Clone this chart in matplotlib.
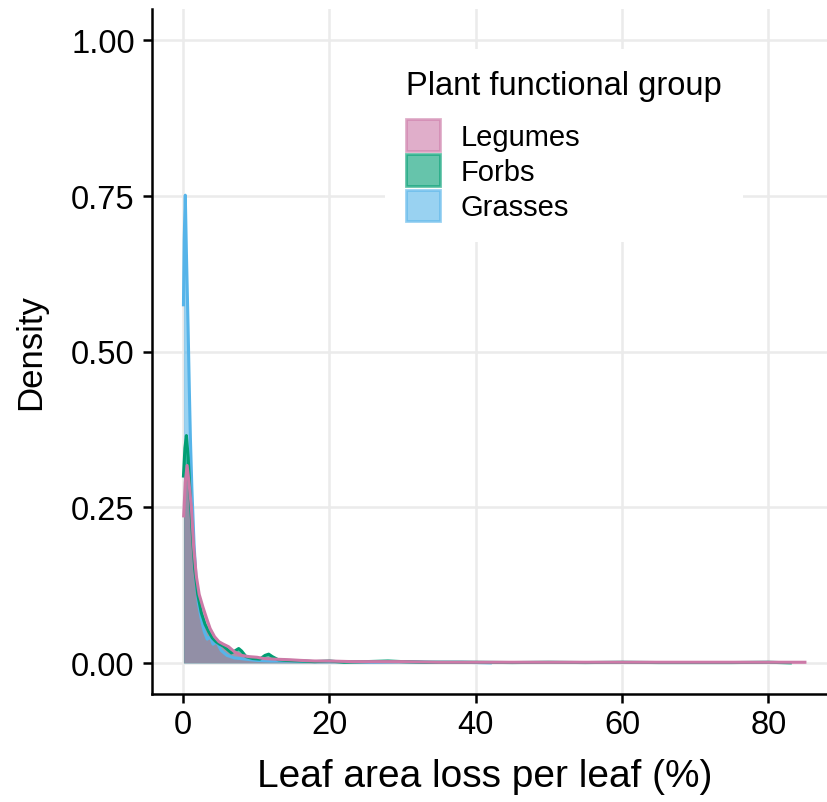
import matplotlib
matplotlib.use("Agg")
import matplotlib.pyplot as plt
from matplotlib.patches import Patch

plt.rcParams['font.family'] = ['Liberation Sans', 'DejaVu Sans']

# Kernel density curves of leaf area loss per leaf (%), by plant functional group
groups = ["Legumes", "Forbs", "Grasses"]
colors = {"Legumes": "#CC79A7", "Forbs": "#009E73", "Grasses": "#56B4E9"}

grasses_x = [0.05, 0.15, 0.3, 0.45, 0.68, 0.85, 1.0, 1.2, 1.5, 1.8, 2.1, 2.5, 2.9, 3.3,
             3.7, 4.1, 4.6, 5.2, 6.0, 7.0, 8.5, 10, 12, 15, 18, 22, 26, 30, 34, 38, 42]
grasses_y = [0.575, 0.68, 0.751, 0.66, 0.54, 0.44, 0.36, 0.28, 0.19, 0.13, 0.095, 0.07, 0.05, 0.038,
             0.042, 0.03, 0.034, 0.02, 0.012, 0.008, 0.006, 0.004, 0.003, 0.003, 0.002, 0.002,
             0.001, 0.002, 0.001, 0.001, 0.0]

forbs_x = [0.05, 0.25, 0.45, 0.7, 1.0, 1.3, 1.6, 2.0, 2.5, 3.0, 3.5, 4.0, 4.5, 5.0, 5.5, 6.0,
           6.6, 7.2, 7.6, 8.0, 8.6, 9.5, 10.5, 11.2, 11.7, 12.2, 13, 14, 16, 18, 20, 22, 25,
           28, 30, 33, 36, 40, 45, 50, 55, 60, 65, 70, 75, 80, 83]
forbs_y = [0.30, 0.345, 0.365, 0.33, 0.26, 0.20, 0.15, 0.11, 0.08, 0.062, 0.05, 0.04, 0.034, 0.03,
           0.027, 0.022, 0.016, 0.02, 0.023, 0.019, 0.01, 0.007, 0.006, 0.012, 0.014, 0.01,
           0.005, 0.004, 0.003, 0.002, 0.003, 0.001, 0.002, 0.003, 0.002, 0.001, 0.001, 0.001,
           0.0005, 0.001, 0.0005, 0.001, 0.0005, 0.0005, 0.0005, 0.001, 0.0]

legumes_x = [0.08, 0.3, 0.55, 0.8, 1.13, 1.45, 1.8, 2.2, 2.7, 3.2, 3.7, 4.3, 4.9, 5.5, 6.2,
             7.0, 8.0, 9.0, 10.1, 11, 12.4, 14.6, 16, 18, 20, 23, 26, 30, 35, 40, 45, 50, 55,
             60, 65, 70, 75, 80, 85]
legumes_y = [0.236, 0.29, 0.317, 0.29, 0.25, 0.185, 0.14, 0.11, 0.09, 0.072, 0.055, 0.042, 0.034,
             0.03, 0.026, 0.018, 0.012, 0.01, 0.009, 0.007, 0.006, 0.005, 0.004, 0.003, 0.003,
             0.002, 0.002, 0.002, 0.001, 0.001, 0.001, 0.001, 0.001, 0.001, 0.001, 0.001,
             0.001, 0.001, 0.001]

series = {
    "Grasses": (grasses_x, grasses_y),
    "Forbs": (forbs_x, forbs_y),
    "Legumes": (legumes_x, legumes_y),
}

x_ticks = [0, 20, 40, 60, 80]
y_ticks = [0.00, 0.25, 0.50, 0.75, 1.00]

fig = plt.figure(figsize=(8.28, 8.03), dpi=100)
ax = fig.add_axes([152 / 828, 108 / 803, 684 / 828, 685 / 803])

for g in ["Grasses", "Forbs", "Legumes"]:
    xs, ys = series[g]
    ax.fill_between(xs, 0, ys, color=colors[g], alpha=0.6, linewidth=0, zorder=2)
    ax.plot(xs, ys, color=colors[g], linewidth=2.2, zorder=3, solid_joinstyle="round")

ax.set_xlim(-4.25, 89.25)
ax.set_ylim(-0.05, 1.05)
ax.set_xticks(x_ticks)
ax.set_yticks(y_ticks)
ax.set_xticklabels([str(v) for v in x_ticks])
ax.set_yticklabels([f"{v:.2f}" for v in y_ticks])
ax.grid(True, color="#ebebeb", linewidth=1.8, zorder=0)
ax.set_axisbelow(True)

for s in ["top", "right"]:
    ax.spines[s].set_visible(False)
for s in ["left", "bottom"]:
    ax.spines[s].set_linewidth(1.8)
    ax.spines[s].set_color("black")

ax.tick_params(axis="both", length=6.5, width=1.8, color="black", labelsize=23.5, labelcolor="black")
ax.tick_params(axis="y", pad=6)
ax.tick_params(axis="x", pad=4)

ax.set_xlabel("Leaf area loss per leaf (%)", fontsize=28, labelpad=9)
ax.xaxis.set_label_coords((485 - 152) / 684, -0.094)
ax.set_ylabel("Density", fontsize=25, labelpad=17)

handles = [Patch(facecolor=colors[g], edgecolor=colors[g], alpha=0.6, linewidth=2.0) for g in groups]
leg = ax.legend(handles, groups, title="Plant functional group", loc="upper left",
                bbox_to_anchor=((385 - 152) / 684, 1 - (50 - 10) / 685),
                frameon=True, fancybox=False, fontsize=21, title_fontsize=23.5,
                handlelength=1.17, handleheight=1.3, handletextpad=0.69,
                labelspacing=0.12, borderpad=0.72, borderaxespad=0)
leg.get_frame().set_facecolor("white")
leg.get_frame().set_edgecolor("none")
leg.get_frame().set_alpha(1.0)
leg._legend_box.align = "left"
leg._legend_box.sep = 13

fig.savefig("out.png", dpi=100)
